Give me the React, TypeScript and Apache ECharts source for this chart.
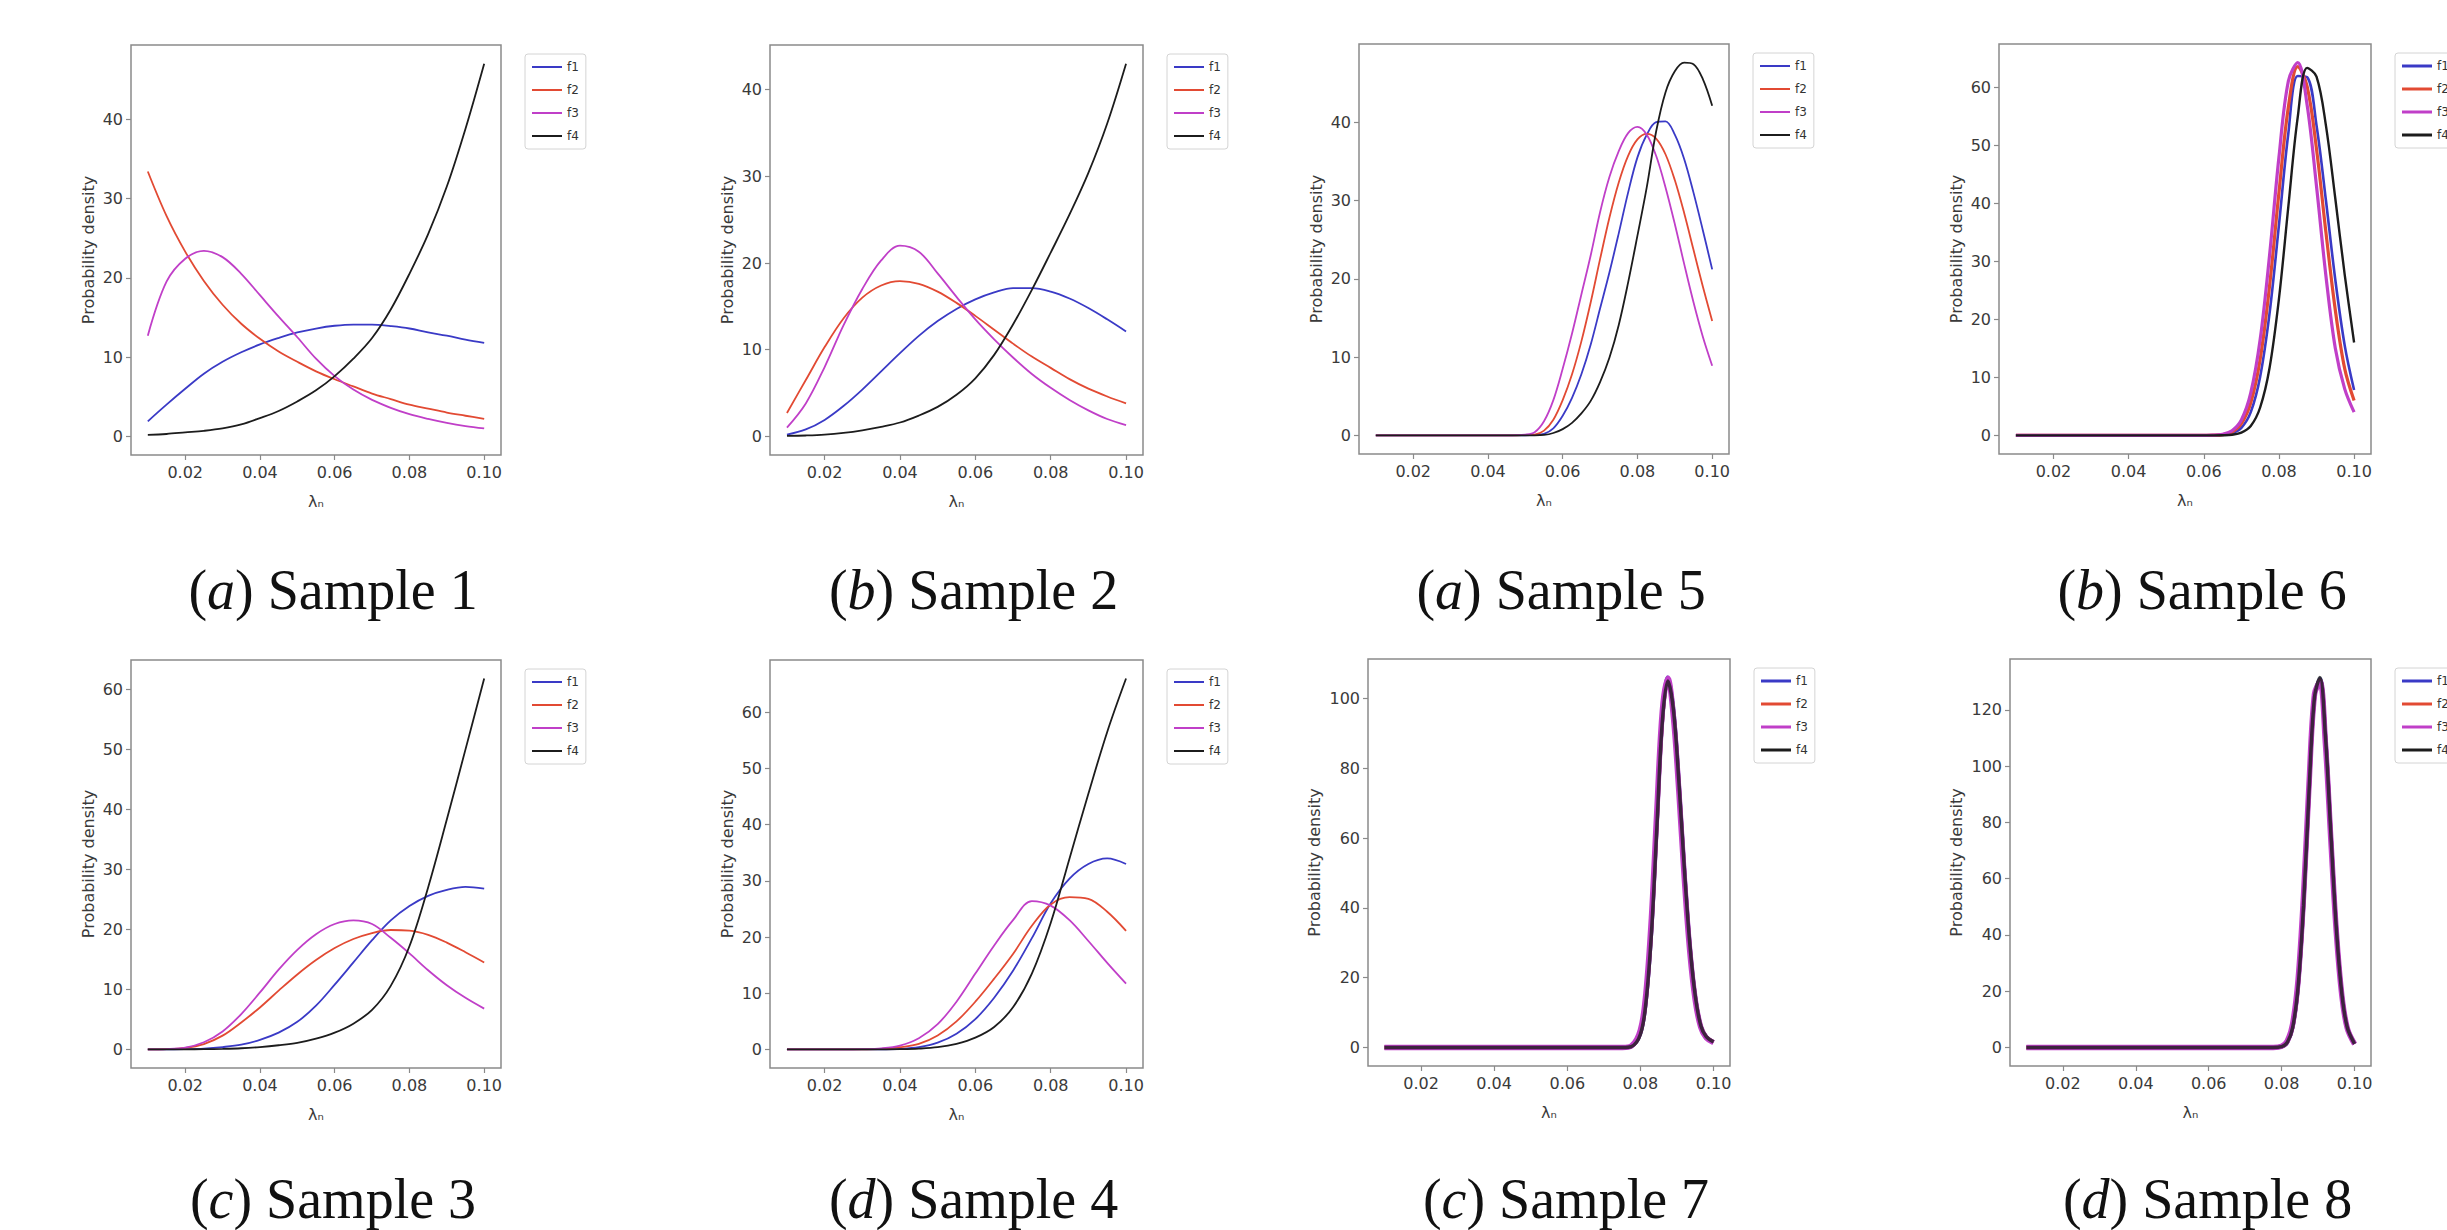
import React, { useEffect, useRef } from "react";
import * as echarts from "echarts";

// ---------- x grids (lambda_n) ----------
const LAMBDA_COARSE = [0.01, 0.015, 0.02, 0.025, 0.03, 0.035, 0.04, 0.045, 0.05, 0.055, 0.06, 0.065, 0.07, 0.075, 0.08, 0.085, 0.09, 0.095, 0.1];
const LAMBDA_MID = [0.01, 0.02, 0.03, 0.04, 0.045, 0.05, 0.0525, 0.055, 0.0575, 0.06, 0.0625, 0.065, 0.0675, 0.07, 0.0725, 0.075, 0.0775, 0.08, 0.0825, 0.085, 0.0875, 0.09, 0.0925, 0.095, 0.0975, 0.1];
const LAMBDA_PEAK = [0.01, 0.02, 0.03, 0.04, 0.05, 0.06, 0.07, 0.075, 0.0775, 0.08, 0.0815, 0.083, 0.0845, 0.086, 0.0875, 0.089, 0.0905, 0.092, 0.0935, 0.095, 0.0965, 0.098, 0.1];

const SERIES_NAMES = ["f1", "f2", "f3", "f4"];
const X_TICKS = [0.02, 0.04, 0.06, 0.08, 0.1];
const Y_TICKS_40 = [0, 10, 20, 30, 40];
const Y_TICKS_60 = [0, 10, 20, 30, 40, 50, 60];
const Y_TICKS_100 = [0, 20, 40, 60, 80, 100];
const Y_TICKS_120 = [0, 20, 40, 60, 80, 100, 120];

// ---------- Sample 1 ----------
const S1_F1 = [1.9, 4.0, 6.0, 7.9, 9.4, 10.6, 11.6, 12.4, 13.1, 13.6, 13.95, 14.1, 14.1, 13.9, 13.6, 13.1, 12.7, 12.2, 11.8];
const S1_F2 = [33.4, 27.8, 23.3, 19.6, 16.6, 14.2, 12.3, 10.7, 9.4, 8.2, 7.2, 6.3, 5.4, 4.7, 4.0, 3.5, 3.0, 2.6, 2.2];
const S1_F3 = [12.7, 19.5, 22.4, 23.4, 22.6, 20.5, 17.8, 15.1, 12.5, 9.8, 7.6, 5.9, 4.6, 3.6, 2.8, 2.2, 1.7, 1.3, 1.0];
const S1_F4 = [0.2, 0.3, 0.5, 0.7, 1.0, 1.5, 2.3, 3.2, 4.4, 5.8, 7.6, 9.8, 12.4, 16.0, 20.5, 25.5, 31.5, 38.8, 47.0];

// ---------- Sample 2 ----------
const S2_F1 = [0.2, 0.8, 1.9, 3.5, 5.4, 7.5, 9.6, 11.6, 13.3, 14.7, 15.8, 16.6, 17.1, 17.1, 16.7, 15.9, 14.8, 13.5, 12.1];
const S2_F2 = [2.7, 6.5, 10.3, 13.6, 16.0, 17.4, 17.9, 17.6, 16.7, 15.4, 13.9, 12.3, 10.7, 9.2, 7.9, 6.6, 5.5, 4.6, 3.8];
const S2_F3 = [1.0, 3.8, 8.0, 12.8, 17.0, 20.3, 22.0, 21.3, 18.8, 16.1, 13.5, 11.2, 9.1, 7.2, 5.6, 4.2, 3.0, 2.0, 1.3];
const S2_F4 = [0.05, 0.1, 0.2, 0.4, 0.7, 1.1, 1.6, 2.4, 3.4, 4.8, 6.7, 9.4, 12.9, 16.9, 21.2, 25.6, 30.4, 36.1, 43.0];

// ---------- Sample 3 ----------
const S3_F1 = [0, 0, 0.05, 0.15, 0.4, 0.8, 1.6, 2.8, 4.6, 7.3, 10.8, 14.5, 18.2, 21.5, 23.9, 25.6, 26.6, 27.1, 26.8];
const S3_F2 = [0, 0.05, 0.25, 0.9, 2.3, 4.5, 7.0, 9.8, 12.5, 14.9, 16.9, 18.4, 19.4, 19.9, 19.8, 19.1, 17.8, 16.2, 14.5];
const S3_F3 = [0, 0.05, 0.3, 1.2, 3.0, 5.9, 9.5, 13.3, 16.6, 19.2, 20.9, 21.5, 20.9, 18.6, 16.0, 13.2, 10.7, 8.6, 6.8];
const S3_F4 = [0, 0, 0.02, 0.05, 0.1, 0.2, 0.4, 0.7, 1.1, 1.8, 2.8, 4.3, 6.6, 10.6, 17.2, 27.0, 38.3, 50.0, 61.8];

// ---------- Sample 4 ----------
const S4_F1 = [0, 0, 0, 0, 0, 0.02, 0.1, 0.4, 1.2, 2.8, 5.4, 9.2, 14.0, 19.8, 26.0, 30.4, 33.0, 34.0, 33.0];
const S4_F2 = [0, 0, 0, 0, 0.02, 0.1, 0.4, 1.0, 2.5, 5.0, 8.5, 12.6, 17.0, 22.0, 25.8, 27.1, 26.8, 24.5, 21.1];
const S4_F3 = [0, 0, 0, 0, 0.05, 0.2, 0.7, 2.0, 4.5, 8.5, 13.5, 18.5, 23.0, 26.4, 25.6, 23.0, 19.3, 15.4, 11.7];
const S4_F4 = [0, 0, 0, 0, 0, 0.02, 0.05, 0.15, 0.4, 1.0, 2.1, 4.0, 7.5, 13.5, 22.5, 34.0, 45.5, 56.5, 66.0];

// ---------- Sample 5 ----------
const S5_F1 = [0, 0, 0, 0, 0, 0, 0.05, 0.2, 0.9, 2.5, 4.8, 7.8, 11.6, 16.2, 20.8, 25.8, 31.0, 35.5, 38.4, 40.0, 40.1, 38.4, 35.3, 31.0, 26.2, 21.2];
const S5_F2 = [0, 0, 0, 0, 0, 0.05, 0.1, 0.6, 2.0, 4.5, 7.8, 12.0, 17.0, 22.5, 27.8, 32.3, 35.7, 37.8, 38.5, 37.9, 35.9, 32.6, 28.4, 23.7, 19.0, 14.6];
const S5_F3 = [0, 0, 0, 0, 0, 0.1, 0.4, 1.8, 4.5, 8.5, 13.0, 18.0, 23.0, 28.5, 33.0, 36.3, 38.6, 39.4, 38.4, 35.7, 31.7, 27.0, 21.9, 17.0, 12.6, 8.9];
const S5_F4 = [0, 0, 0, 0, 0, 0, 0, 0.05, 0.3, 0.8, 1.6, 2.8, 4.4, 6.8, 9.9, 14.1, 19.5, 25.5, 31.7, 38.8, 43.8, 46.5, 47.6, 47.4, 45.5, 42.1];

// ---------- Sample 6 ----------
const S6_F1 = [0, 0, 0, 0, 0, 0, 0, 0, 0, 0, 0.02, 0.08, 0.37, 1.3, 4.0, 10.1, 21.0, 36.2, 52.0, 61.9, 61.7, 53.4, 40.5, 26.8, 15.5, 7.8];
const S6_F2 = [0, 0, 0, 0, 0, 0, 0, 0, 0, 0.01, 0.03, 0.14, 0.57, 2.0, 5.6, 13.1, 25.7, 41.8, 56.5, 63.5, 60.1, 49.3, 35.0, 21.6, 11.5, 6.0];
const S6_F3 = [0, 0, 0, 0, 0, 0, 0, 0, 0, 0.01, 0.04, 0.2, 0.8, 2.65, 7.3, 16.5, 31.0, 47.9, 61.0, 64.2, 56.9, 42.9, 27.5, 15.0, 8.0, 4.0];
const S6_F4 = [0, 0, 0, 0, 0, 0, 0, 0, 0, 0, 0, 0.02, 0.11, 0.46, 1.6, 4.8, 11.6, 23.5, 39.4, 54.8, 63.3, 61.8, 53.4, 40.8, 27.7, 16.0];

// ---------- Sample 7 ----------
const S7_F1 = [0, 0, 0, 0, 0, 0, 0, 0.01, 0.31, 4.1, 13.4, 33.5, 64.3, 94.3, 106.0, 97.0, 76.0, 50.9, 29.2, 14.3, 6.0, 3.0, 1.5];
const S7_F2 = [0, 0, 0, 0, 0, 0, 0, 0.01, 0.35, 4.4, 14.0, 34.5, 65.0, 94.5, 105.5, 96.0, 75.0, 50.0, 28.5, 14.0, 6.0, 3.0, 1.5];
const S7_F3 = [0, 0, 0, 0, 0, 0, 0, 0.02, 0.45, 5.0, 15.5, 37.0, 68.0, 96.5, 105.8, 95.0, 73.5, 48.5, 27.5, 13.5, 5.8, 2.8, 1.4];
const S7_F4 = [0, 0, 0, 0, 0, 0, 0, 0.01, 0.28, 3.8, 12.8, 32.5, 63.0, 93.5, 105.0, 97.0, 76.5, 51.5, 29.8, 14.8, 6.3, 3.1, 1.6];

// ---------- Sample 8 ----------
const S8_F1 = [0, 0, 0, 0, 0, 0, 0, 0, 0.01, 0.35, 1.8, 7.2, 21.9, 51.2, 91.4, 124.8, 131.0, 110.3, 75.5, 42.0, 19.0, 7.0, 1.3];
const S8_F2 = [0, 0, 0, 0, 0, 0, 0, 0, 0.01, 0.38, 1.9, 7.5, 22.5, 52.0, 92.0, 125.0, 130.5, 109.5, 74.8, 41.5, 18.8, 7.0, 1.3];
const S8_F3 = [0, 0, 0, 0, 0, 0, 0, 0, 0.02, 0.45, 2.2, 8.3, 24.0, 54.0, 93.5, 125.5, 130.0, 108.0, 73.5, 40.8, 18.5, 6.8, 1.2];
const S8_F4 = [0, 0, 0, 0, 0, 0, 0, 0, 0.01, 0.33, 1.7, 7.0, 21.5, 50.5, 90.8, 124.5, 131.5, 110.8, 76.0, 42.3, 19.2, 7.1, 1.3];

// ---------- captions ----------
const CAPTION_LETTERS = ["a", "b", "a", "b", "c", "d", "c", "d"];
const CAPTION_LABELS = ["Sample 1", "Sample 2", "Sample 5", "Sample 6", "Sample 3", "Sample 4", "Sample 7", "Sample 8"];

// ---------- styling / layout ----------
const COLORS = ["#3a3ac6", "#e24a33", "#c03fc8", "#1c1c1c"];
const FRAME = "#8a8a8a";
const TEXT = "#3a3a3a";
const SANS = "DejaVu Sans";
const SERIF = "Liberation Serif";

type Panel = {
  xs: number[];
  ys: number[][];
  yTicks: number[];
  box: [number, number, number, number];
  widths: number[];
  opac: number[];
  nameGap: number;
  legendLine: number;
  captionTop: number;
};

const THIN = [1.8, 1.8, 1.8, 1.8];
const FULL = [1, 1, 1, 1];

const PANELS: Panel[] = [
  { xs: LAMBDA_COARSE, ys: [S1_F1, S1_F2, S1_F3, S1_F4], yTicks: Y_TICKS_40, box: [131, 45, 370, 410], widths: THIN, opac: FULL, nameGap: 35, legendLine: 2, captionTop: 557 },
  { xs: LAMBDA_COARSE, ys: [S2_F1, S2_F2, S2_F3, S2_F4], yTicks: Y_TICKS_40, box: [770, 45, 373, 410], widths: THIN, opac: FULL, nameGap: 35, legendLine: 2, captionTop: 557 },
  { xs: LAMBDA_MID, ys: [S5_F1, S5_F2, S5_F3, S5_F4], yTicks: Y_TICKS_40, box: [1359, 44, 370, 410], widths: THIN, opac: FULL, nameGap: 35, legendLine: 2, captionTop: 557 },
  { xs: LAMBDA_MID, ys: [S6_F1, S6_F2, S6_F3, S6_F4], yTicks: Y_TICKS_60, box: [1999, 44, 372, 410], widths: [2.6, 3.2, 3.2, 2.4], opac: FULL, nameGap: 35, legendLine: 3, captionTop: 557 },
  { xs: LAMBDA_COARSE, ys: [S3_F1, S3_F2, S3_F3, S3_F4], yTicks: Y_TICKS_60, box: [131, 660, 370, 408], widths: THIN, opac: FULL, nameGap: 35, legendLine: 2, captionTop: 1166 },
  { xs: LAMBDA_COARSE, ys: [S4_F1, S4_F2, S4_F3, S4_F4], yTicks: Y_TICKS_60, box: [770, 660, 373, 408], widths: THIN, opac: FULL, nameGap: 35, legendLine: 2, captionTop: 1166 },
  { xs: LAMBDA_PEAK, ys: [S7_F1, S7_F2, S7_F3, S7_F4], yTicks: Y_TICKS_100, box: [1368, 659, 362, 407], widths: [4, 4, 5.5, 3.5], opac: [1, 1, 1, 0.8], nameGap: 46, legendLine: 3, captionTop: 1166 },
  { xs: LAMBDA_PEAK, ys: [S8_F1, S8_F2, S8_F3, S8_F4], yTicks: Y_TICKS_120, box: [2010, 659, 361, 407], widths: [4, 4, 5.5, 3.5], opac: [1, 1, 1, 0.8], nameGap: 46, legendLine: 3, captionTop: 1166 },
];

const X_MIN = 0.0055;
const X_MAX = 0.1045;

function buildOption() {
  const grid: any[] = [];
  const xAxis: any[] = [];
  const yAxis: any[] = [];
  const series: any[] = [];
  const legend: any[] = [];
  const title: any[] = [];

  PANELS.forEach((p, i) => {
    const [left, top, width, height] = p.box;
    let dataMax = 0;
    p.ys.forEach((arr) => arr.forEach((v) => { if (v > dataMax) dataMax = v; }));
    const pad = dataMax * 0.05;

    grid.push({ left, top, width, height, show: true, borderColor: FRAME, borderWidth: 1.5, backgroundColor: "#ffffff", containLabel: false, outerBoundsMode: "none" });

    xAxis.push({
      type: "value", gridIndex: i, min: X_MIN, max: X_MAX,
      name: "λₙ", nameLocation: "middle", nameGap: 38,
      nameTextStyle: { fontFamily: SANS, fontSize: 16, color: TEXT },
      axisLine: { show: false, onZero: false },
      splitLine: { show: false },
      axisTick: { show: true, length: 5, inside: false, lineStyle: { color: FRAME, width: 1.2 }, customValues: X_TICKS },
      axisLabel: { customValues: X_TICKS, formatter: (v: number) => v.toFixed(2), margin: 9, fontSize: 16, color: TEXT, fontFamily: SANS },
    });

    yAxis.push({
      type: "value", gridIndex: i, min: -pad, max: dataMax + pad,
      name: "Probability density", nameLocation: "middle", nameGap: p.nameGap, nameRotate: 90,
      nameTextStyle: { fontFamily: SANS, fontSize: 16, color: TEXT },
      axisLine: { show: false, onZero: false },
      splitLine: { show: false },
      axisTick: { show: true, length: 5, inside: false, lineStyle: { color: FRAME, width: 1.2 }, customValues: p.yTicks },
      axisLabel: { customValues: p.yTicks, formatter: (v: number) => String(Math.round(v)), margin: 8, fontSize: 16, color: TEXT, fontFamily: SANS },
    });

    p.ys.forEach((arr, j) => {
      series.push({
        type: "line", name: SERIES_NAMES[j], xAxisIndex: i, yAxisIndex: i,
        data: p.xs.map((x, k) => [x, arr[k]]),
        showSymbol: false, symbol: "none", smooth: 0.35, silent: true, clip: true,
        lineStyle: { color: COLORS[j], width: p.widths[j], opacity: p.opac[j] },
        itemStyle: { color: COLORS[j] },
      });
    });

    legend.push({
      data: SERIES_NAMES, orient: "vertical",
      left: left + width + 24, top: top + 9,
      icon: "rect", itemWidth: 30, itemHeight: p.legendLine, itemGap: 11,
      padding: [7, 7, 7, 7], borderColor: "#d4d4d4", borderWidth: 1, borderRadius: 3,
      backgroundColor: "#ffffff", selectedMode: false,
      textStyle: { fontSize: 12, color: "#333", fontFamily: SANS },
    });

    title.push({
      text: `({i|${CAPTION_LETTERS[i]}}) ${CAPTION_LABELS[i]}`,
      left: left + width / 2 + 12, top: p.captionTop, textAlign: "center",
      textStyle: {
        fontFamily: SERIF, fontSize: 56, fontWeight: "normal", color: "#111",
        rich: { i: { fontFamily: SERIF, fontSize: 56, fontStyle: "italic", color: "#111" } },
      },
    });
  });

  return { animation: false, backgroundColor: "#ffffff", grid, xAxis, yAxis, series, legend, title };
}

export default function App() {
  const ref = useRef<HTMLDivElement>(null);
  useEffect(() => {
    if (!ref.current) return;
    const chart = echarts.init(ref.current, undefined, { renderer: "svg" });
    chart.setOption(buildOption() as any);
    return () => chart.dispose();
  }, []);
  return (
    <div
      ref={ref}
      style={{ position: "absolute", left: 0, top: 0, width: 2447, height: 1230, background: "#fff" }}
    />
  );
}
